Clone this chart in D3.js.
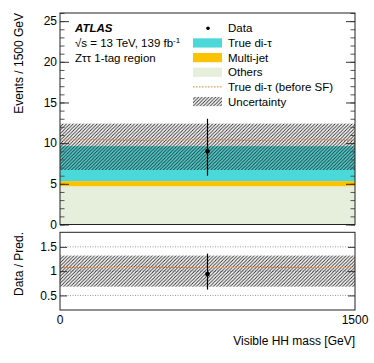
<!DOCTYPE html>
<html>
<head>
<meta charset="utf-8">
<script src="https://cdn.jsdelivr.net/npm/d3@7"></script>
<style>
  body { margin: 0; background: #fff; }
  text { font-family: "Liberation Sans", Arial, sans-serif; fill: #000; }
</style>
</head>
<body>
<div id="chart"></div>
<script>
// bin edges (GeV) and the stacked backgrounds
var binEdges = [[0, 1500]];
var others = [4.7];
var multiJet = [0.63];
var trueDiTau = [4.3];
var trueBeforeSF = [10.37];
var uncLow = [6.7], uncHigh = [12.4];
var dataVals = [9.0], dataLow = [6.0], dataHigh = [13.0];

// ratio panel
var ratioVals = [0.94], ratioLow = [0.62], ratioHigh = [1.36];
var ratioUncLow = [0.68], ratioUncHigh = [1.32];
var ratioBeforeSF = [1.08];
var ratioGuides = [0.5, 1, 1.5];

var mainTicks = [0, 5, 10, 15, 20, 25];
var ratioTicks = [0.5, 1, 1.5];
var xTicks = [0, 1500];

var legendItems = [
  {label: 'Data', type: 'data'},
  {label: 'True di-\u03c4', type: 'box', color: '#4bd8d8'},
  {label: 'Multi-jet', type: 'box', color: '#fdc300'},
  {label: 'Others', type: 'box', color: '#e6efdc'},
  {label: 'True di-\u03c4 (before SF)', type: 'line', color: '#f07b2d'},
  {label: 'Uncertainty', type: 'hatch'}
];

var W = 374, H = 363;
var fs = 11.5;

var svg = d3.select('#chart').append('svg')
  .attr('width', W).attr('height', H);

var defs = svg.append('defs');
var pat = defs.append('pattern')
  .attr('id', 'hatch')
  .attr('patternUnits', 'userSpaceOnUse')
  .attr('width', 3.4).attr('height', 3.4);
pat.append('path')
  .attr('d', 'M-1,1 l2,-2 M0,3.4 l3.4,-3.4 M2.4,4.4 l2,-2')
  .attr('stroke', '#2a2a2a').attr('stroke-width', 0.9);

var x = d3.scaleLinear().domain([0, 1500]).range([60, 355]);
var y = d3.scaleLinear().domain([0, 26]).range([224.5, 13]);
var yr = d3.scaleLinear().domain([0.2, 1.8]).range([310, 232.3]);

// ---- main panel: stacked histogram
var stack = binEdges.map(function (b, i) {
  return [
    {lo: 0, hi: others[i], color: '#e6efdc'},
    {lo: others[i], hi: others[i] + multiJet[i], color: '#fdc300'},
    {lo: others[i] + multiJet[i], hi: others[i] + multiJet[i] + trueDiTau[i], color: '#4bd8d8'}
  ].map(function (s) { s.b = b; return s; });
});

var main = svg.append('g');
stack.forEach(function (layers) {
  main.selectAll(null).data(layers).enter().append('rect')
    .attr('x', function (d) { return x(d.b[0]); })
    .attr('width', function (d) { return x(d.b[1]) - x(d.b[0]); })
    .attr('y', function (d) { return y(d.hi); })
    .attr('height', function (d) { return y(d.lo) - y(d.hi); })
    .attr('fill', function (d) { return d.color; });
});

// uncertainty hatch
main.selectAll('.unc').data(binEdges).enter().append('rect')
  .attr('x', function (d) { return x(d[0]); })
  .attr('width', function (d) { return x(d[1]) - x(d[0]); })
  .attr('y', function (d, i) { return y(uncHigh[i]); })
  .attr('height', function (d, i) { return y(uncLow[i]) - y(uncHigh[i]); })
  .attr('fill', 'url(#hatch)');

// before-SF line
main.selectAll('.bsf').data(binEdges).enter().append('line')
  .attr('x1', function (d) { return x(d[0]); })
  .attr('x2', function (d) { return x(d[1]); })
  .attr('y1', function (d, i) { return y(trueBeforeSF[i]); })
  .attr('y2', function (d, i) { return y(trueBeforeSF[i]); })
  .attr('stroke', '#f07b2d').attr('stroke-width', 1.3)
  .attr('stroke-dasharray', '1.5,1.8');

// data points
binEdges.forEach(function (b, i) {
  var cx = x((b[0] + b[1]) / 2);
  main.append('line')
    .attr('x1', cx).attr('x2', cx)
    .attr('y1', y(dataLow[i])).attr('y2', y(dataHigh[i]))
    .attr('stroke', '#000').attr('stroke-width', 1.2);
  main.append('circle').attr('cx', cx).attr('cy', y(dataVals[i]))
    .attr('r', 2.4).attr('fill', '#000');
});

// axes + frame
function frame(g, yScale, ticks, minor, majorLen, minorLen) {
  var x0 = x.range()[0], x1 = x.range()[1];
  var yTop = yScale.range()[1], yBot = yScale.range()[0];
  g.append('g')
    .attr('transform', 'translate(' + x0 + ',0)')
    .call(d3.axisRight(yScale).tickValues(minor).tickSize(minorLen).tickFormat(''))
    .call(function (a) { a.select('.domain').remove(); a.selectAll('line').attr('stroke', '#555'); });
  g.append('g')
    .attr('transform', 'translate(' + x1 + ',0)')
    .call(d3.axisLeft(yScale).tickValues(minor).tickSize(minorLen).tickFormat(''))
    .call(function (a) { a.select('.domain').remove(); a.selectAll('line').attr('stroke', '#555'); });
  g.append('g')
    .attr('transform', 'translate(' + x0 + ',0)')
    .call(d3.axisRight(yScale).tickValues(ticks).tickSize(majorLen).tickFormat(''))
    .call(function (a) { a.select('.domain').remove(); a.selectAll('line').attr('stroke', '#333'); });
  g.append('g')
    .attr('transform', 'translate(' + x1 + ',0)')
    .call(d3.axisLeft(yScale).tickValues(ticks).tickSize(majorLen).tickFormat(''))
    .call(function (a) { a.select('.domain').remove(); a.selectAll('line').attr('stroke', '#333'); });
  g.selectAll(null).data(ticks).enter().append('text')
    .attr('x', x0 - 3).attr('y', function (d) { return yScale(d); })
    .attr('dy', '0.36em').attr('text-anchor', 'end')
    .style('font-size', '12px').text(function (d) { return d; });
  g.append('rect')
    .attr('x', x0).attr('y', yTop)
    .attr('width', x1 - x0).attr('height', yBot - yTop)
    .attr('fill', 'none').attr('stroke', '#222').attr('stroke-width', 1);
}

frame(svg.append('g'), y, mainTicks, d3.range(0, 26.5, 1), 9, 4.5);

// ---- ratio panel
var ratio = svg.append('g');
ratio.selectAll('.guide').data(ratioGuides).enter().append('line')
  .attr('x1', x(0)).attr('x2', x(1500))
  .attr('y1', function (d) { return yr(d); })
  .attr('y2', function (d) { return yr(d); })
  .attr('stroke', '#999').attr('stroke-width', 1)
  .attr('stroke-dasharray', '1,1.5');

ratio.selectAll('.runc').data(binEdges).enter().append('rect')
  .attr('x', function (d) { return x(d[0]); })
  .attr('width', function (d) { return x(d[1]) - x(d[0]); })
  .attr('y', function (d, i) { return yr(ratioUncHigh[i]); })
  .attr('height', function (d, i) { return yr(ratioUncLow[i]) - yr(ratioUncHigh[i]); })
  .attr('fill', 'url(#hatch)');

ratio.selectAll('.rbsf').data(binEdges).enter().append('line')
  .attr('x1', function (d) { return x(d[0]); })
  .attr('x2', function (d) { return x(d[1]); })
  .attr('y1', function (d, i) { return yr(ratioBeforeSF[i]); })
  .attr('y2', function (d, i) { return yr(ratioBeforeSF[i]); })
  .attr('stroke', '#f07b2d').attr('stroke-width', 1.3)
  .attr('stroke-dasharray', '1.5,1.8');

binEdges.forEach(function (b, i) {
  var cx = x((b[0] + b[1]) / 2);
  ratio.append('line')
    .attr('x1', cx).attr('x2', cx)
    .attr('y1', yr(ratioLow[i])).attr('y2', yr(ratioHigh[i]))
    .attr('stroke', '#000').attr('stroke-width', 1.2);
  ratio.append('circle').attr('cx', cx).attr('cy', yr(ratioVals[i]))
    .attr('r', 2.4).attr('fill', '#000');
});

frame(ratio, yr, ratioTicks, [], 7, 0);

// x tick labels under the ratio panel
svg.selectAll('.xlab').data(xTicks).enter().append('text')
  .attr('x', function (d) { return x(d); })
  .attr('y', 324)
  .attr('text-anchor', 'middle')
  .style('font-size', '12px')
  .text(function (d) { return d; });

// axis titles
svg.append('text')
  .attr('x', 355).attr('y', 345)
  .attr('text-anchor', 'end').style('font-size', '12px')
  .text('Visible HH mass [GeV]');

svg.append('text')
  .attr('transform', 'translate(23,13) rotate(-90)')
  .attr('text-anchor', 'end').style('font-size', '12px')
  .text('Events / 1500 GeV');

svg.append('text')
  .attr('transform', 'translate(23,232) rotate(-90)')
  .attr('text-anchor', 'end').style('font-size', '12px')
  .text('Data / Pred.');

// ATLAS label block
svg.append('text')
  .attr('x', 75).attr('y', 32)
  .style('font-size', fs + 'px').style('font-weight', 'bold').style('font-style', 'italic')
  .text('ATLAS');
var lumi = svg.append('text')
  .attr('x', 75).attr('y', 47)
  .style('font-size', fs + 'px');
lumi.append('tspan').text('\u221as = 13 TeV, 139 fb');
lumi.append('tspan').attr('dy', -4).style('font-size', '8px').text('-1');
svg.append('text')
  .attr('x', 75).attr('y', 62)
  .style('font-size', fs + 'px')
  .text('Z\u03c4\u03c4 1-tag region');

// legend
var leg = svg.append('g');
legendItems.forEach(function (d, i) {
  var cy = 28.3 + i * 14.65;
  if (d.type === 'data') {
    leg.append('circle').attr('cx', 208).attr('cy', cy).attr('r', 1.8).attr('fill', '#000');
  } else if (d.type === 'box') {
    leg.append('rect').attr('x', 193).attr('y', cy - 4.6)
      .attr('width', 29).attr('height', 9.2).attr('fill', d.color);
  } else if (d.type === 'line') {
    leg.append('line').attr('x1', 193).attr('x2', 222)
      .attr('y1', cy).attr('y2', cy)
      .attr('stroke', d.color).attr('stroke-width', 1)
      .attr('stroke-dasharray', '1.5,1.5');
  } else {
    leg.append('rect').attr('x', 193).attr('y', cy - 4.6)
      .attr('width', 29).attr('height', 9.2).attr('fill', 'url(#hatch)');
  }
  leg.append('text').attr('x', 228).attr('y', cy)
    .attr('dy', '0.36em').style('font-size', fs + 'px')
    .text(d.label);
});
</script>
</body>
</html>
